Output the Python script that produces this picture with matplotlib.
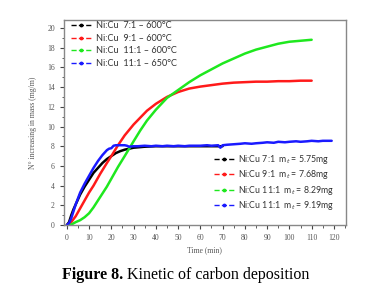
import matplotlib
matplotlib.use('Agg')
import matplotlib.pyplot as plt
from matplotlib.lines import Line2D
from matplotlib.ticker import MultipleLocator

# Data (time in min, increase in mass)
t_71 = [0, 1, 2, 3, 4, 5, 6, 8, 10, 12, 14, 16, 18, 20, 22, 24, 26, 28, 30,
        35, 40, 45, 50, 55, 60, 65, 70]
v_71 = [0, 0.3, 1.0, 1.6, 2.1, 2.6, 3.1, 3.9, 4.6, 5.3, 5.8, 6.3, 6.7, 7.0,
        7.3, 7.5, 7.65, 7.75, 7.85, 7.95, 8.0, 8.0, 8.0, 8.0, 8.0, 8.0, 8.0]

t_91 = [0, 2, 4, 6, 8, 10, 12, 15, 18, 20, 23, 26, 30, 33, 36, 40, 45, 50,
        55, 60, 65, 70, 75, 80, 85, 90, 95, 100, 105, 110]
v_91 = [0, 0.3, 0.9, 1.7, 2.5, 3.3, 4.0, 5.2, 6.3, 7.0, 8.1, 9.1, 10.2, 10.9,
        11.6, 12.3, 13.0, 13.5, 13.85, 14.05, 14.2, 14.35, 14.45, 14.5, 14.55,
        14.55, 14.6, 14.6, 14.65, 14.65]

t_111 = [0, 2, 4, 6, 8, 10, 12, 14, 16, 18, 20, 23, 26, 30, 33, 36, 40, 45,
         50, 55, 60, 65, 70, 75, 80, 85, 90, 95, 100, 105, 110]
v_111 = [0, 0.05, 0.3, 0.5, 0.8, 1.2, 1.8, 2.5, 3.2, 3.9, 4.7, 5.9, 7.0, 8.5,
         9.6, 10.6, 11.7, 12.9, 13.7, 14.5, 15.2, 15.8, 16.4, 16.9, 17.4,
         17.8, 18.1, 18.4, 18.6, 18.7, 18.8]

t_650 = [0, 1, 2, 3, 4, 5, 6, 8, 10, 12, 14, 16, 18, 19, 20, 21, 22, 24, 26,
         27, 28, 30, 32, 35, 38, 40, 43, 45, 48, 50, 53, 55, 58, 60, 63, 65,
         68, 69, 70, 72, 75, 78, 80, 83, 85, 88, 90, 93, 95, 98, 100, 103,
         105, 108, 110, 113, 115, 118, 119]
v_650 = [0, 0.2, 0.7, 1.4, 2.1, 2.7, 3.3, 4.2, 5.0, 5.8, 6.5, 7.1, 7.6, 7.75,
         7.8, 8.05, 8.1, 8.1, 8.1, 8.05, 7.95, 8.0, 8.0, 8.05, 8.0, 8.05, 8.0,
         8.05, 8.0, 8.05, 8.0, 8.05, 8.05, 8.05, 8.1, 8.05, 8.1, 7.85, 8.1,
         8.15, 8.2, 8.25, 8.3, 8.25, 8.3, 8.35, 8.4, 8.35, 8.45, 8.4, 8.45,
         8.5, 8.45, 8.5, 8.55, 8.5, 8.55, 8.55, 8.55]

series = [(t_71, v_71), (t_91, v_91), (t_111, v_111), (t_650, v_650)]
colors = ['black', '#ff1a1a', '#1ee81e', '#1a1aff']
labels_top = ['Ni:Cu  7:1 \u2013 600\u00b0C', 'Ni:Cu  9:1 \u2013 600\u00b0C',
              'Ni:Cu  11:1 \u2013 600\u00b0C', 'Ni:Cu  11:1 \u2013 650\u00b0C']
labels_bot = ['Ni:Cu 7:1  m$_t$ = 5.75mg', 'Ni:Cu 9:1  m$_t$ = 7.68mg',
              'Ni:Cu 11:1  m$_t$ = 8.29mg', 'Ni:Cu 11:1  m$_t$ = 9.19mg']

fig = plt.figure(figsize=(3.76, 2.95), dpi=100)
ax = fig.add_axes([0.170, 0.237, 0.750, 0.695])

for (t, v), c in zip(series, colors):
    ax.plot(t, v, color=c, lw=1.8, solid_capstyle='round')

ax.set_xlim(-1.3, 125.4)
ax.set_ylim(0, 20.8)
ax.xaxis.set_major_locator(MultipleLocator(10))
ax.xaxis.set_minor_locator(MultipleLocator(5))
ax.yaxis.set_major_locator(MultipleLocator(2))
ax.yaxis.set_minor_locator(MultipleLocator(1))
ax.tick_params(which='both', direction='out', top=False, right=False,
               color='#444444', labelsize=5.5, labelcolor='#555555')
ax.tick_params(which='major', length=3, width=0.8)
ax.tick_params(which='minor', length=1.8, width=0.6)
for lab in ax.get_xticklabels() + ax.get_yticklabels():
    lab.set_family('Liberation Serif')
for s in ax.spines.values():
    s.set_color('#888888')
    s.set_linewidth(1.0)

ax.set_xlabel('Time (min)', fontsize=5.5, family='Liberation Serif',
              color='#555555', labelpad=3)
ax.set_ylabel('N\u00b0 increasing in mass (mg/m)', fontsize=5.5,
              family='Liberation Serif', color='#555555', labelpad=7)

handles = [Line2D([], [], color=c, ls='--', lw=1.0, marker='.', markersize=3.5)
           for c in colors]
leg1 = ax.legend(handles, labels_top, loc='upper left', frameon=False,
                 prop={'family': 'Lato', 'size': 6.6}, handlelength=2.3,
                 handletextpad=0.4, labelspacing=0.4,
                 bbox_to_anchor=(-0.005, 1.035))
for txt in leg1.get_texts():
    txt.set_color('#333333')
ax.add_artist(leg1)
leg2 = ax.legend(handles, labels_bot, loc='lower right', frameon=False,
                 prop={'family': 'Lato', 'size': 6.3}, handlelength=2.4,
                 handletextpad=0.3, labelspacing=0.28,
                 bbox_to_anchor=(0.985, 0.025))
for txt in leg2.get_texts():
    txt.set_color('#333333')

cap = fig.text(0.165, 0.055, 'Figure 8.', fontsize=11.5, weight='bold',
               family='Liberation Serif')
fig.canvas.draw()
ax.annotate(' Kinetic of carbon deposition', xy=(1, 0), xycoords=cap,
            va='bottom', ha='left', fontsize=11.5, family='Liberation Serif')

fig.savefig('out.png', dpi=100)
